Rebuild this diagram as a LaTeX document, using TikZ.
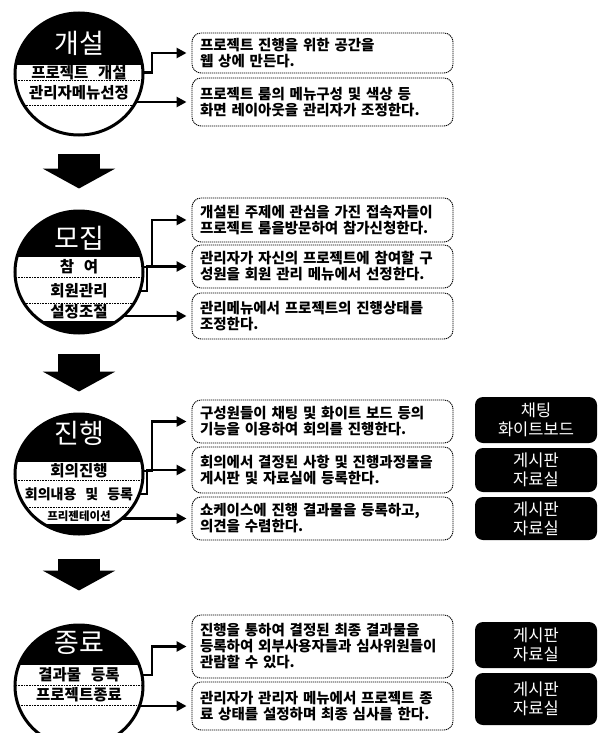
\documentclass[tikz,border=0pt]{standalone}
\usepackage{fontspec}
\newfontfamily\kr{Noto Sans CJK KR}
\newfontfamily\krw{Noto Sans CJK KR}[WordSpace=2.8]
\usetikzlibrary{arrows.meta,backgrounds,shapes.geometric}
\tikzset{
 txtbox/.style={draw, rounded corners=9pt, dash pattern=on 1.2pt off 0.8pt, line width=0.9pt, fill=white, minimum width=261pt, text width=245pt, align=left, inner sep=0pt, font=\krw\bfseries\fontsize{14.5}{16}\selectfont},
 rbox/.style={fill=black, rounded corners=8pt, minimum width=122pt, text=white, align=center, inner sep=0pt, font=\kr\fontsize{16.5}{19}\selectfont},
 stitle/.style={text=white, font=\kr\fontsize{27}{29}\selectfont, inner sep=0pt},
 band/.style={font=\kr\bfseries\fontsize{15.5}{17}\selectfont, inner sep=0pt},
 ring/.style={ellipse, draw, line width=3pt, minimum width=128pt, minimum height=122pt, inner sep=0pt},
 conn/.style={line width=2.8pt, -{Triangle[length=10pt,width=10pt]}, shorten >=5pt},
 bigarr/.style={line width=42pt, -{Triangle[length=20pt,width=72pt]}},
 sep/.style={line width=0.8pt, dash pattern=on 1pt off 0.6pt},
}
\begin{document}
\begin{tikzpicture}[x=1pt,y=-1pt]
\useasboundingbox (0,0) rectangle (605,733);
\begin{scope}[on background layer]
\fill[white] (0,0) rectangle (605,733);
\end{scope}

% ---------- Stage 1
\begin{scope}
\clip (79,74) ellipse [x radius=64pt, y radius=61pt];
\fill[white] (0,0) rectangle (160,140);
\fill (0,0) rectangle (160,65);
\draw[sep] (0,80) -- (160,80);
\draw[sep] (0,105) -- (160,105);
\end{scope}
\node[ring] (s1c) at (79,74) {};
\node[stitle] (s1t) at (79,43) {개설};
\node[band] (s1b1) at (79,72.5) {프로젝트 개설};
\node[band] (s1b2) at (79,92.5) {관리자메뉴선정};

% ---------- Stage 2
\begin{scope}
\clip (79,272) ellipse [x radius=64pt, y radius=61pt];
\fill[white] (0,200) rectangle (160,340);
\fill (0,200) rectangle (160,257);
\draw[sep] (0,277) -- (160,277);
\draw[sep] (0,303) -- (160,303);
\fill (0,321) rectangle (160,340);
\end{scope}
\node[ring] (s2c) at (79,272) {};
\node[stitle] (s2t) at (79,238) {모집};
\node[band] (s2b1) at (79,267) {참 여};
\node[band] (s2b2) at (79,291) {회원관리};
\node[band] (s2b3) at (79,312) {설정조절};

% ---------- Stage 3
\begin{scope}
\clip (79,474) ellipse [x radius=64pt, y radius=60pt];
\fill[white] (0,400) rectangle (160,540);
\fill (0,400) rectangle (160,462);
\draw[sep] (0,480) -- (160,480);
\draw[sep] (0,507) -- (160,507);
\fill (0,524) rectangle (160,540);
\end{scope}
\node[ring, minimum height=120pt] (s3c) at (79,474) {};
\node[stitle] (s3t) at (79,433) {진행};
\node[band] (s3b1) at (79,471) {회의진행};
\node[band, font=\kr\bfseries\fontsize{14}{16}\selectfont] (s3b2) at (79,494) {회의내용 및 등록};
\node[band, font=\kr\bfseries\fontsize{11.5}{13}\selectfont] (s3b3) at (79,516) {프리젠테이션};

% ---------- Stage 4
\begin{scope}
\clip (79,686) ellipse [x radius=64pt, y radius=61pt];
\fill[white] (0,600) rectangle (160,760);
\fill (0,600) rectangle (160,665);
\draw[sep] (0,685) -- (160,685);
\draw[sep] (0,705) -- (160,705);
\end{scope}
\node[ring] (s4c) at (79,686) {};
\node[stitle] (s4t) at (79,643) {종료};
\node[band] (s4b1) at (79,675) {결과물 등록};
\node[band] (s4b2) at (79,695) {프로젝트종료};

% ---------- big arrows
\draw[bigarr] ([yshift=-17pt]s1c.south) -- ([yshift=21pt]s2c.north);
\draw[bigarr] ([yshift=-19pt]s2c.south) -- ([yshift=21pt]s3c.north);
\draw[bigarr] ([yshift=-23pt]s3c.south) -- ([yshift=33pt]s4c.north);

% ---------- text boxes
\node[txtbox, minimum height=40pt] (t11) at (322.5,53) {프로젝트 진행을 위한 공간을\\웹 상에 만든다.};
\node[txtbox, minimum height=48pt] (t12) at (322.5,102) {프로젝트 룸의 메뉴구성 및 색상 등\\화면 레이아웃을 관리자가 조정한다.};

\node[txtbox, minimum height=44pt] (t21) at (322.5,220) {개설된 주제에 관심을 가진 접속자들이\\프로젝트 룸을방문하여 참가신청한다.};
\node[txtbox, minimum height=43pt] (t22) at (322.5,266.5) {관리자가 자신의 프로젝트에 참여할 구\\성원을 회원 관리 메뉴에서 선정한다.};
\node[txtbox, minimum height=46pt] (t23) at (322.5,316) {관리메뉴에서 프로젝트의 진행상태를\\조정한다.};

\node[txtbox, minimum height=43pt] (t31) at (322.5,421.5) {구성원들이 채팅 및 화이트 보드 등의\\기능을 이용하여 회의를 진행한다.};
\node[txtbox, minimum height=46pt] (t32) at (322.5,470) {회의에서 결정된 사항 및 진행과정물을\\게시판 및 자료실에 등록한다.};
\node[txtbox, minimum height=43pt] (t33) at (322.5,518.5) {쇼케이스에 진행 결과물을 등록하고,\\의견을 수렴한다.};

\node[txtbox, minimum height=63pt] (t41) at (322.5,646.5) {진행을 통하여 결정된 최종 결과물을\\등록하여 외부사용자들과 심사위원들이\\관람할 수 있다.};
\node[txtbox, minimum height=48pt] (t42) at (322.5,706) {관리자가 관리자 메뉴에서 프로젝트 종\\료 상태를 설정하며 최종 심사를 한다.};

% ---------- right black boxes
\node[rbox, minimum height=46pt] (r31) at (536,420) {채팅\\화이트보드};
\node[rbox, minimum height=44pt] (r32) at (536,470) {게시판\\자료실};
\node[rbox, minimum height=43pt] (r33) at (536,518.5) {게시판\\자료실};
\node[rbox, minimum height=46pt] (r41) at (536,645) {게시판\\자료실};
\node[rbox, minimum height=52pt] (r42) at (536,699) {게시판\\자료실};

% ---------- connectors
\coordinate (jA) at (152,0);
\coordinate (jB) at (147,0);
\begin{scope}[on background layer]
\draw[conn] (s1b1.center) -- (s1b1 -| jA) |- (t11.west);
\draw[conn] (t12.west -| s1c.center) -- (t12.west);
\draw[conn] (s2b1.center) -- (s2b1 -| jA) |- (t21.west);
\draw[conn] (s2b2.center) -- (s2b2 -| jB) |- (t22.west);
\draw[conn] (t23.west -| s2c.center) -- (t23.west);
\draw[conn] (s3b1.center) -- (s3b1 -| jA) |- (t31.west);
\draw[conn] (s3b2.center) -- (s3b2 -| jB) |- (t32.west);
\draw[conn] (t33.west -| s3c.center) -- (t33.west);
\draw[conn] (s4b1.center) -- (s4b1 -| jA) |- (t41.west);
\draw[conn] (t42.west -| s4c.center) -- (t42.west);
\end{scope}
\end{tikzpicture}
\end{document}
